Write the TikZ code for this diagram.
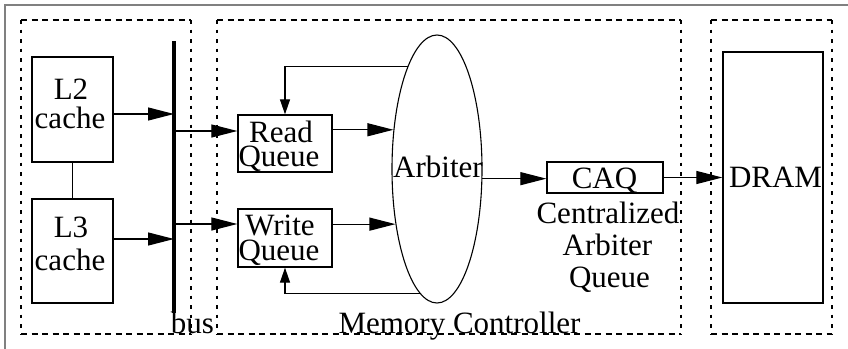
\documentclass[tikz,border=0pt]{standalone}
\usepackage{fontspec}
\setmainfont{Liberation Serif}
\usetikzlibrary{arrows.meta,shapes.geometric}

\tikzset{
  lbl/.style={anchor=base, inner sep=0pt, font=\fontsize{31}{31}\selectfont},
  blk/.style={draw, line width=1.3pt, inner sep=0pt},
  hdash/.style={line width=1.2pt, dash pattern=on 6pt off 4.5pt},
  vdash/.style={line width=1.2pt, dash pattern=on 3.5pt off 6pt},
  bigarrow/.style={line width=1.2pt, -{Triangle[length=26pt,width=13pt]}},
  smallarrow/.style={line width=1.2pt, -{Triangle[length=15pt,width=10pt]}},
}

\begin{document}
\begin{tikzpicture}[x=1pt,y=-1pt]
  % canvas and outer frame
  \fill[white] (0,0) rectangle (848,348);
  \useasboundingbox (0,0) rectangle (848,348);
  \draw[line width=1.8pt, color=black!50] (5,360) -- (5,5) -- (860,5);

  % dashed group outlines
  \draw[hdash] (21,20) -- (191,20) (21,334) -- (191,334);
  \draw[vdash] (21,20) -- (21,334) (191,20) -- (191,334);
  \draw[hdash] (217,20) -- (681,20) (217,334) -- (681,334);
  \draw[vdash] (217,20) -- (217,334) (681,20) -- (681,334);
  \draw[hdash] (711,20) -- (832,20) (711,334) -- (832,334);
  \draw[vdash] (711,20) -- (711,334) (832,20) -- (832,334);

  % caches
  \node[blk, minimum width=81pt, minimum height=105pt] (l2) at (72.5,109.5) {};
  \node[blk, minimum width=81pt, minimum height=104pt] (l3) at (72.5,251) {};
  \node[lbl] (l2a) at (71,99) {L2};
  \node[lbl] (l2b) at (70,128) {cache};
  \node[lbl] (l3a) at (71,237) {L3};
  \node[lbl] (l3b) at (70,270) {cache};
  \draw[line width=1.3pt] (l2.south) -- (l3.north);

  % bus
  \coordinate (bt) at (174,41);
  \coordinate (bb) at (174,313);
  \draw[line width=3.2pt] (bt) -- (bb);
  \node[lbl] (buslbl) at (192.5,333) {bus};

  % queues
  \node[blk, minimum width=94pt, minimum height=57pt] (rq) at (285,143.5) {};
  \node[blk, minimum width=94pt, minimum height=58pt] (wq) at (285,238) {};
  \node[lbl] (rqa) at (281,142) {Read};
  \node[lbl] (rqb) at (279,166) {Queue};
  \node[lbl] (wqa) at (280,235) {Write};
  \node[lbl] (wqb) at (279,260) {Queue};

  % arbiter
  \node[ellipse, draw, line width=1.1pt, minimum width=90pt, minimum height=268pt, inner sep=0pt] (arb) at (437,169) {};
  \node[lbl] (arbl) at (438,177) {Arbiter};

  % centralized arbiter queue
  \node[blk, minimum width=116pt, minimum height=31pt] (caq) at (605,177.5) {};
  \node[lbl] (caql) at (604.5,188) {CAQ};
  \node[lbl] (caqa) at (608,223) {Centralized};
  \node[lbl] (caqb) at (607.5,255) {Arbiter};
  \node[lbl] (caqc) at (609.5,287) {Queue};

  % DRAM
  \node[blk, minimum width=100pt, minimum height=251pt] (dram) at (773,177.5) {};
  \node[lbl] (draml) at (775.5,187) {DRAM};

  \node[lbl] (mcl) at (459.5,333) {Memory Controller};

  % connectors
  \draw[bigarrow] ([yshift=-4.5pt]l2.east) -- ([yshift=-4.5pt]l2.east -| bt);
  \draw[bigarrow] ([yshift=12pt]l3.east) -- ([yshift=12pt]l3.east -| bt);
  \draw[bigarrow] ([yshift=12.5pt]rq.west -| bt) -- ([yshift=12.5pt]rq.west);
  \draw[bigarrow] ([yshift=14pt]wq.west -| bt) -- ([yshift=14pt]wq.west);
  \draw[bigarrow] (rq.east |- arb.138.6) -- (arb.138.6);
  \draw[bigarrow] (wq.east |- arb.233.3) -- (arb.233.3);
  \draw[bigarrow] (arb.348.7) -- (caq.west |- arb.348.7);
  \draw[bigarrow] (caq.east) -- (dram.west);
  \draw[smallarrow] (arb.106) -| (rq.north);
  \draw[smallarrow] (arb.262.2) -| (wq.south);
\end{tikzpicture}
\end{document}
